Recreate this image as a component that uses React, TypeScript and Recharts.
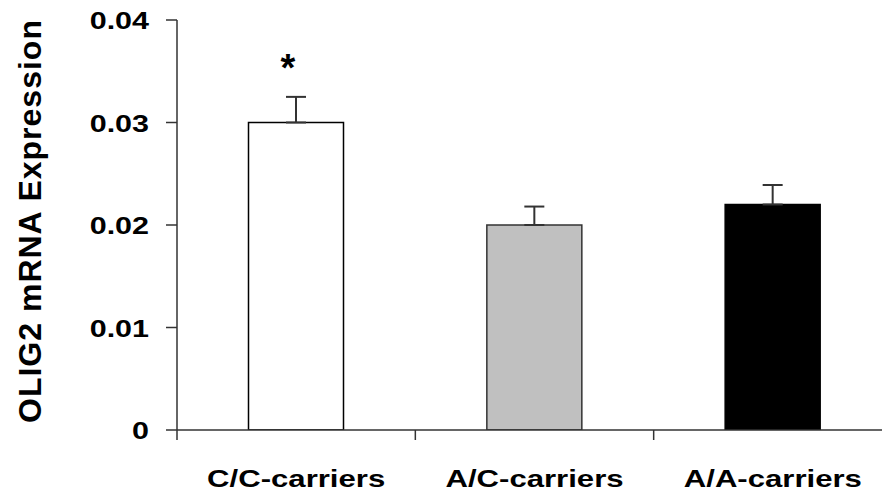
import React from 'react';
import { BarChart, Bar, XAxis, YAxis, ErrorBar, Cell, LabelList } from 'recharts';

const categories = ['C/C-carriers', 'A/C-carriers', 'A/A-carriers'];
const expression = [0.03, 0.02, 0.022];
const sem = [0.0025, 0.0018, 0.0019];
const significance = ['*', '', ''];
const barFills = ['#ffffff', '#c0c0c0', '#000000'];
const barStrokes = ['#000000', '#333333', '#000000'];
const yTicks = [0, 0.01, 0.02, 0.03, 0.04];
const yTitle = 'OLIG2 mRNA Expression';

const data = categories.map((c, i) => ({
  category: c,
  value: expression[i],
  err: [0, sem[i]],
  sig: significance[i],
}));

const FONT = "'Liberation Sans', Arial, sans-serif";
const STRETCH = 1.27;

const XTick = (props: any) => {
  const { x, y, payload } = props;
  const off = payload && payload.offset != null ? payload.offset : 0;
  return (
    <g>
      <line x1={x - off} x2={x - off} y1={y - 10} y2={y} stroke="#333" strokeWidth={1.5} />
      <g transform={`translate(${x}, ${y + 47}) scale(${STRETCH}, 1)`}>
        <text
          x={0}
          y={0}
          textAnchor="middle"
          fontFamily={FONT}
          fontWeight="bold"
          fontSize={24.5}
          fill="#000"
        >
          {payload.value}
        </text>
      </g>
    </g>
  );
};

const YTick = (props: any) => {
  const { x, y, payload } = props;
  return (
    <g transform={`translate(${x}, ${y + 9}) scale(${STRETCH}, 1)`}>
      <text
        x={0}
        y={0}
        textAnchor="end"
        fontFamily={FONT}
        fontWeight="bold"
        fontSize={24}
        fill="#000"
      >
        {String(payload.value)}
      </text>
    </g>
  );
};

const YLabel = (props: any) => {
  const vb = props.viewBox || { x: 0, y: 20, width: 177, height: 410 };
  const cx = vb.x + 30;
  const cy = vb.y + vb.height / 2 - 4;
  return (
    <text
      x={cx}
      y={cy}
      transform={`rotate(-90, ${cx}, ${cy})`}
      textAnchor="middle"
      dominantBaseline="central"
      fontFamily={FONT}
      fontWeight="bold"
      fontSize={32}
      letterSpacing={1}
      fill="#000"
    >
      {yTitle}
    </text>
  );
};

const SigLabel = (props: any) => {
  const { x, y, width, value } = props;
  if (!value) return null;
  return (
    <text
      x={Number(x) + Number(width) / 2 - 8}
      y={Number(y) - 42}
      textAnchor="middle"
      fontFamily={FONT}
      fontWeight="bold"
      fontSize={38}
      fill="#000"
    >
      {value}
    </text>
  );
};

export default function App() {
  return (
    <div style={{ position: 'absolute', left: 0, top: 0, width: 882, height: 495, overflow: 'hidden', background: '#fff' }}>
      <BarChart
        width={900}
        height={495}
        data={data}
        margin={{ top: 20, right: 8, bottom: 0, left: 0 }}
        barCategoryGap="30%"
      >
        <XAxis
          dataKey="category"
          interval={0}
          tickLine={false}
          tickSize={10}
          tickMargin={0}
          height={65}
          axisLine={{ stroke: '#333', strokeWidth: 1.5 }}
          tick={<XTick />}
        />
        <YAxis
          width={177}
          domain={[0, 0.04]}
          ticks={yTicks}
          tickSize={11}
          tickMargin={17}
          axisLine={{ stroke: '#333', strokeWidth: 1.5 }}
          tickLine={{ stroke: '#333', strokeWidth: 1.5 }}
          tick={<YTick />}
          label={<YLabel />}
          allowDataOverflow
        />
        <Bar dataKey="value" isAnimationActive={false}>
          {data.map((d, i) => (
            <Cell key={d.category} fill={barFills[i]} stroke={barStrokes[i]} strokeWidth={1.5} />
          ))}
          <ErrorBar dataKey="err" direction="y" width={10} stroke="#333" strokeWidth={2} />
          <LabelList dataKey="sig" content={<SigLabel />} />
        </Bar>
      </BarChart>
    </div>
  );
}
